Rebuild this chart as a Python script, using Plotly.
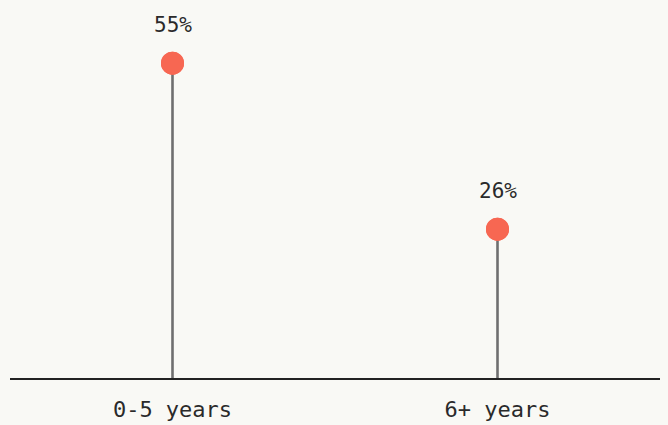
import plotly.graph_objects as go

categories = ["0-5 years", "6+ years"]
values = [55, 26]
labels = ["55%", "26%"]

BG = "#f9f9f5"
DOT = "#f76752"
STEM = "#6f6f6f"
FONT = "DejaVu Sans Mono"

fig = go.Figure()

fig.add_trace(go.Scatter(
    x=categories, y=values, mode="markers",
    marker=dict(size=23, color=DOT, line=dict(width=0)),
    error_y=dict(type="data", symmetric=False, array=[0] * len(values),
                 arrayminus=values, width=0, thickness=2.6, color=STEM),
    hoverinfo="skip", showlegend=False,
))
# draw markers on top of the stems
fig.add_trace(go.Scatter(
    x=categories, y=values, mode="markers",
    marker=dict(size=23, color=DOT, line=dict(width=0)),
    hoverinfo="skip", showlegend=False,
))

for c, v, t in zip(categories, values, labels):
    fig.add_annotation(x=c, y=v, text=t, showarrow=False, yshift=38,
                       font=dict(family=FONT, size=21, color="#2a2a2a"))

fig.update_layout(
    width=668, height=425,
    margin=dict(l=10, r=8, t=6, b=47),
    paper_bgcolor=BG, plot_bgcolor=BG,
    font=dict(family=FONT, color="#2a2a2a"),
)
fig.update_xaxes(
    type="category", range=[-0.5, 1.5], showgrid=False, zeroline=False,
    showline=True, linecolor="#222222", linewidth=2,
    ticks="", tickfont=dict(family=FONT, size=22, color="#2a2a2a"),
    ticklabelstandoff=11, automargin=False,
)
fig.update_yaxes(range=[0, 65], showgrid=False, zeroline=False,
                 showticklabels=False, showline=False, automargin=False)

fig.write_html("out.html")
